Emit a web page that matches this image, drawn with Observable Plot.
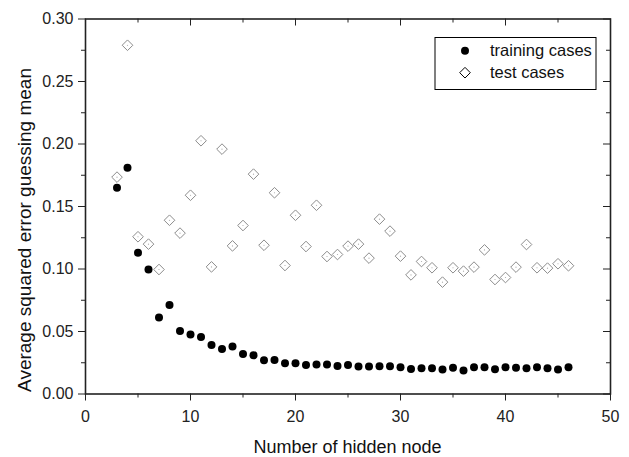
<!DOCTYPE html>
<html>
<head>
<meta charset="utf-8">
<script src="https://cdn.jsdelivr.net/npm/d3@7"></script>
<script src="https://cdn.jsdelivr.net/npm/@observablehq/plot@0.6"></script>
<style>
  html, body { margin: 0; padding: 0; background: #fff; }
  #chart { width: 629px; height: 457px; }
</style>
</head>
<body>
<div id="chart"></div>
<script>
// Number of hidden nodes in the network
const hiddenNodes = [3, 4, 5, 6, 7, 8, 9, 10, 11, 12, 13, 14, 15, 16, 17, 18, 19, 20, 21, 22, 23, 24,
  25, 26, 27, 28, 29, 30, 31, 32, 33, 34, 35, 36, 37, 38, 39, 40, 41, 42, 43, 44, 45, 46];

// Average squared error relative to guessing the mean
const trainingError = [0.165, 0.181, 0.113, 0.0996, 0.0612, 0.0713, 0.0505, 0.0476, 0.0457, 0.0393,
  0.0361, 0.038, 0.0321, 0.031, 0.027, 0.0273, 0.0247, 0.0247, 0.0233, 0.0236, 0.0236, 0.0225,
  0.0232, 0.022, 0.022, 0.0223, 0.0223, 0.0215, 0.0201, 0.0207, 0.0207, 0.0196, 0.021, 0.0188,
  0.0215, 0.0215, 0.0199, 0.0215, 0.021, 0.0207, 0.0215, 0.0207, 0.0196, 0.0215];

const testError = [0.1735, 0.279, 0.1258, 0.1199, 0.0996, 0.139, 0.1287, 0.159, 0.2026, 0.1017,
  0.1959, 0.1185, 0.1348, 0.1759, 0.119, 0.161, 0.1028, 0.143, 0.118, 0.151, 0.110, 0.1116,
  0.1183, 0.1199, 0.1087, 0.1399, 0.1303, 0.1103, 0.0953, 0.106, 0.101, 0.0895, 0.101, 0.0983,
  0.1015, 0.1153, 0.0916, 0.0932, 0.1015, 0.1196, 0.101, 0.1007, 0.1042, 0.1026];

// Axis ticks
const xMajor = [0, 10, 20, 30, 40, 50];
const xMinor = [5, 15, 25, 35, 45];
const yMajor = [0, 0.05, 0.10, 0.15, 0.20, 0.25, 0.30];
const yMinor = [0.025, 0.075, 0.125, 0.175, 0.225, 0.275];

const seriesNames = ["training cases", "test cases"];
const xTitle = "Number of hidden node";
const yTitle = "Average squared error guessing mean";

const training = hiddenNodes.map((n, i) => ({n, err: trainingError[i]}));
const test = hiddenNodes.map((n, i) => ({n, err: testError[i]}));

const W = 629, H = 457;
const mL = 85, mR = 19, mT = 18.5, mB = 63.5;
const innerW = W - mL - mR, innerH = H - mT - mB;
const font = "'Liberation Sans', Arial, sans-serif";
const ink = "#222";

const chart = Plot.plot({
  width: W,
  height: H,
  marginLeft: mL,
  marginRight: mR,
  marginTop: mT,
  marginBottom: mB,
  style: {fontFamily: font, fontSize: "16px", color: ink, background: "#fff", overflow: "visible"},
  x: {domain: [0, 50]},
  y: {domain: [0, 0.3]},
  marks: [
    // bottom and left axes, ticks pointing out
    Plot.axisX({ticks: xMajor, tickSize: 7, tickPadding: 10, tickFormat: d3.format("d"), label: null, fontSize: 16}),
    Plot.axisX({ticks: xMinor, tickSize: 4, tickFormat: () => "", label: null}),
    Plot.axisY({ticks: yMajor, tickSize: 7, tickPadding: 5, tickFormat: d3.format(".2f"), label: null, fontSize: 16}),
    Plot.axisY({ticks: yMinor, tickSize: 4, tickFormat: () => "", label: null}),
    // mirrored ticks on top and right, pointing in
    Plot.tickX(xMajor, {x: d => d, insetBottom: innerH - 7, stroke: ink}),
    Plot.tickX(xMinor, {x: d => d, insetBottom: innerH - 4, stroke: ink}),
    Plot.tickY(yMajor, {y: d => d, insetLeft: innerW - 7, stroke: ink}),
    Plot.tickY(yMinor, {y: d => d, insetLeft: innerW - 4, stroke: ink}),
    Plot.frame({stroke: ink, strokeWidth: 1.6}),
    // data
    Plot.dot(training, {x: "n", y: "err", r: 4, fill: "#000", stroke: "none"}),
    Plot.dot(test, {x: "n", y: "err", symbol: "diamond2", r: 4.8, stroke: "#8c8c8c", strokeWidth: 1, fill: "#fff"}),
    Plot.dot(test, {x: "n", y: "err", r: 0.6, fill: "#aaa", stroke: "none"})
  ]
});

document.getElementById("chart").appendChild(chart);

const svg = d3.select(chart);

// axis titles
svg.append("text")
  .attr("x", mL + innerW / 2).attr("y", 447).attr("dy", "0.35em")
  .attr("text-anchor", "middle").attr("font-family", font).attr("font-size", 18)
  .attr("fill", "#111").text(xTitle);
svg.append("text")
  .attr("transform", `translate(24,230) rotate(-90)`).attr("dy", "0.35em")
  .attr("text-anchor", "middle").attr("font-family", font).attr("font-size", 19)
  .attr("fill", "#111").text(yTitle);

// legend box in the upper right of the frame
const lg = svg.append("g").attr("font-family", font).attr("font-size", 16.5).attr("text-anchor", "start");
const lx = 435, ly = 37.5, lw = 161, lh = 52;
lg.append("rect").attr("x", lx).attr("y", ly).attr("width", lw).attr("height", lh)
  .attr("fill", "#fff").attr("stroke", "#000").attr("stroke-width", 1);
const rows = [
  {name: seriesNames[0], y: ly + 13.2, sym: d3.symbolCircle, size: Math.PI * 16, fill: "#000", stroke: "none"},
  {name: seriesNames[1], y: ly + 35.2, sym: d3.symbolDiamond2, size: Math.PI * 4.8 * 4.8, fill: "#fff", stroke: "#000"}
];
rows.forEach(r => {
  lg.append("path").attr("d", d3.symbol(r.sym, r.size)()).attr("transform", `translate(${lx + 30},${r.y})`)
    .attr("fill", r.fill).attr("stroke", r.stroke).attr("stroke-width", 1);
  lg.append("text").attr("x", lx + 55).attr("y", r.y).attr("dy", "0.35em")
    .attr("text-anchor", "start").attr("fill", "#111").text(r.name);
});
</script>
</body>
</html>
